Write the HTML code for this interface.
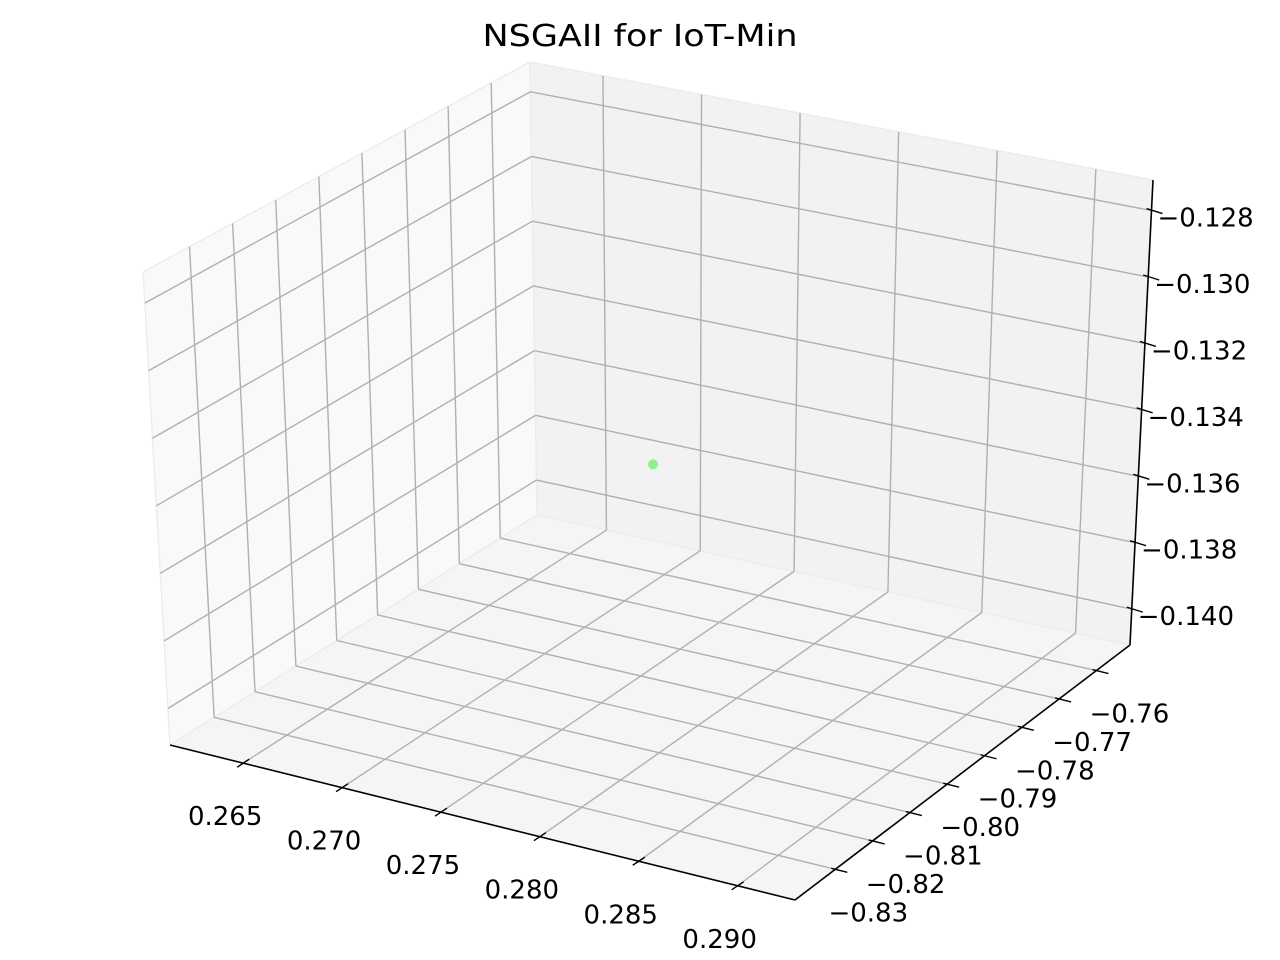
<!DOCTYPE html>
<html><head><meta charset="utf-8"><style>
html,body{margin:0;padding:0;background:#fff;}
svg{display:block;font-family:"DejaVu Sans","Liberation Sans",sans-serif;}
</style></head><body>
<svg id="chart" width="1280" height="960" viewBox="0 0 1280 960">
<rect width="1280" height="960" fill="#fff"/>
<text x="640" y="46" text-anchor="middle" font-size="30" textLength="315" lengthAdjust="spacingAndGlyphs" fill="#000">NSGAII for IoT-Min</text>
<g id="layer"></g>
</svg>
<script>
// data
const xTicks = [0.265, 0.270, 0.275, 0.280, 0.285, 0.290];
const yTicks = [-0.76, -0.77, -0.78, -0.79, -0.80, -0.81, -0.82, -0.83];
const zTicks = [-0.128, -0.130, -0.132, -0.134, -0.136, -0.138, -0.140];
const xTickLabels = ["0.265","0.270","0.275","0.280","0.285","0.290"];
const yTickLabels = ["\u22120.76","\u22120.77","\u22120.78","\u22120.79","\u22120.80","\u22120.81","\u22120.82","\u22120.83"];
const zTickLabels = ["\u22120.128","\u22120.130","\u22120.132","\u22120.134","\u22120.136","\u22120.138","\u22120.140"];
const xLimits = [0.2613, 0.2929];
const yLimits = [-0.8408, -0.7510];
const zLimits = [-0.14108, -0.12708];
const pointsX = [0.2771];
const pointsY = [-0.7959];
const pointsZ = [-0.1341];

const NS='http://www.w3.org/2000/svg';
const layer=document.getElementById('layer');
const B={'00':[170,745],'10':[795,900],'01':[537,515],'11':[1130,645]};
const T={'00':[143,272],'10':[766,390],'01':[530,62],'11':[1153,180]};
function bil(C,u,v){const a=C['00'],b=C['10'],c=C['01'],d=C['11'];
 return [a[0]*(1-u)*(1-v)+b[0]*u*(1-v)+c[0]*(1-u)*v+d[0]*u*v,
         a[1]*(1-u)*(1-v)+b[1]*u*(1-v)+c[1]*(1-u)*v+d[1]*u*v];}
function P(u,v,w){const b=bil(B,u,v),t=bil(T,u,v);return [b[0]*(1-w)+t[0]*w,b[1]*(1-w)+t[1]*w];}
const fx=x=>(x-xLimits[0])/(xLimits[1]-xLimits[0]);
const fy=y=>(y-yLimits[0])/(yLimits[1]-yLimits[0]);
const fz=z=>(z-zLimits[0])/(zLimits[1]-zLimits[0]);
function poly(pts,fill,name){const e=document.createElementNS(NS,'polygon');
 e.setAttribute('points',pts.map(p=>p.join(',')).join(' '));e.setAttribute('fill',fill);
 
 
 layer.appendChild(e);return e;}
function line(a,b,stroke,w,name){const e=document.createElementNS(NS,'line');
 e.setAttribute('x1',a[0]);e.setAttribute('y1',a[1]);e.setAttribute('x2',b[0]);e.setAttribute('y2',b[1]);
 e.setAttribute('stroke',stroke);e.setAttribute('stroke-width',w);
 
 
 layer.appendChild(e);return e;}
function text(x,y,s,anchor,name){const e=document.createElementNS(NS,'text');
 e.setAttribute('x',x);e.setAttribute('y',y);e.setAttribute('text-anchor',anchor);
 e.setAttribute('font-size','26');e.setAttribute('fill','#000');e.textContent=s;
 
 
 layer.appendChild(e);return e;}
poly([P(0,0,0),P(0,1,0),P(0,1,1),P(0,0,1)],'#f9f9f9','left-pane');
poly([P(0,1,0),P(1,1,0),P(1,1,1),P(0,1,1)],'#f2f2f2','back-pane');
poly([P(0,0,0),P(1,0,0),P(1,1,0),P(0,1,0)],'#f5f5f5','floor-pane');
line(P(0,0,1),P(0,1,1),'#ebebeb',1.3,'pane-edge');
line(P(0,1,1),P(1,1,1),'#ebebeb',1.3,'pane-edge');
line(P(0,1,0),P(0,1,1),'#ebebeb',1.3,'pane-edge');
line(P(0,1,0),P(1,1,0),'#ebebeb',1.3,'pane-edge');
line(P(0,1,0),P(0,0,0),'#ebebeb',1.3,'pane-edge');
line(P(0,0,0),P(0,0,1),'#ebebeb',1.3,'pane-edge');
const G='#b0b0b0';
xTicks.forEach(x=>{const u=fx(x);
 line(P(u,0,0),P(u,1,0),G,1.4,'x-gridline');line(P(u,1,0),P(u,1,1),G,1.4,'x-gridline');});
yTicks.forEach(y=>{const v=fy(y);
 line(P(1,v,0),P(0,v,0),G,1.4,'y-gridline');line(P(0,v,0),P(0,v,1),G,1.4,'y-gridline');});
zTicks.forEach(z=>{const w=fz(z);
 line(P(0,0,w),P(0,1,w),G,1.4,'z-gridline');line(P(0,1,w),P(1,1,w),G,1.4,'z-gridline');});
line(P(0,0,0),P(1,0,0),'#000',1.6,'x-axis-line');
line(P(1,0,0),P(1,1,0),'#000',1.6,'y-axis-line');
line(P(1,1,0),P(1,1,1),'#000',1.6,'z-axis-line');
xTicks.forEach((x,i)=>{const p=P(fx(x),0,0);
 line([p[0]-6,p[1]+4],[p[0]+6,p[1]-4],'#000',1.4,'x-tick');
 text(p[0]-18,p[1]+62,xTickLabels[i],'middle','x-tick-label');});
yTicks.forEach((y,i)=>{const p=P(1,fy(y),0);
 line([p[0]-4,p[1]-1],[p[0]+12,p[1]+3],'#000',1.4,'y-tick');
 text(p[0]+33,p[1]+52,yTickLabels[i],'middle','y-tick-label');});
zTicks.forEach((z,i)=>{const p=P(1,1,fz(z));
 line([p[0]-5,p[1]-2],[p[0]+11,p[1]+3],'#000',1.4,'z-tick');
 text(p[0]+6,p[1]+16,zTickLabels[i],'start','z-tick-label');});
pointsX.forEach((x,i)=>{const p=P(fx(x),fy(pointsY[i]),fz(pointsZ[i]));
 const c=document.createElementNS(NS,'circle');
 c.setAttribute('cx',p[0]);c.setAttribute('cy',p[1]);c.setAttribute('r',5);c.setAttribute('fill','#90f090');
 
 
 layer.appendChild(c);});
</script>
</body></html>
